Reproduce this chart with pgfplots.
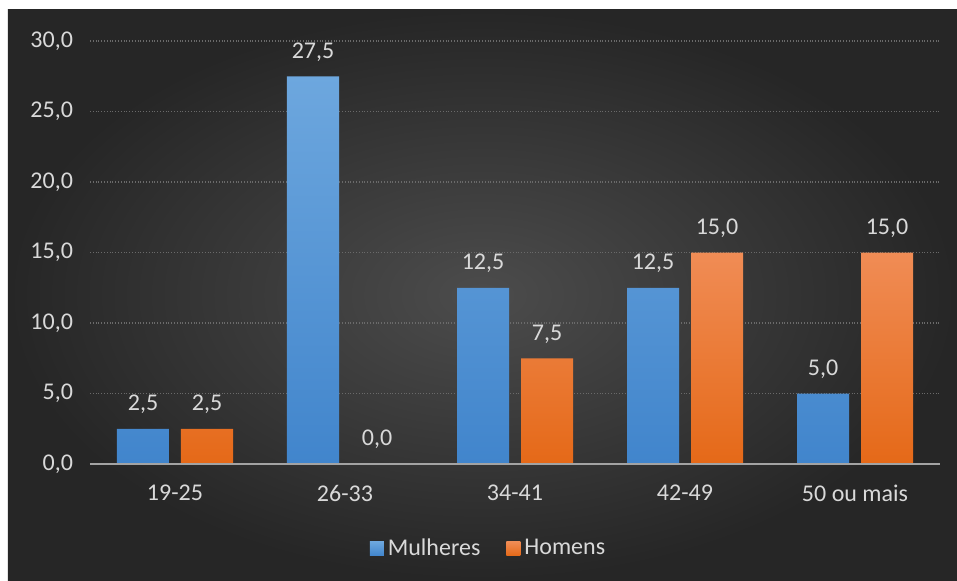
\documentclass[border=0pt]{standalone}
\usepackage{pgfplots}
\pgfplotsset{compat=1.18}
\usepackage{fontspec}
\setmainfont{Carlito}
\definecolor{bgin}{HTML}{4C4C4C}
\definecolor{bgout}{HTML}{262626}
\definecolor{lbl}{HTML}{D9D9D9}
\definecolor{gridc}{HTML}{6A6A6A}
\definecolor{btop}{HTML}{6DA7DE}
\definecolor{bbot}{HTML}{4185CC}
\definecolor{otop}{HTML}{F08C55}
\definecolor{obot}{HTML}{E56918}
\begin{document}
\begin{tikzpicture}[x=1pt,y=1pt]
\fill[white] (-45,-58) rectangle (433.5,232);
\shade[inner color=bgin, outer color=bgout] (-41,-58) rectangle (433.5,227);
\begin{axis}[
  at={(0,0)}, anchor=south west, scale only axis,
  width=425pt, height=211.5pt,
  xmin=-0.5, xmax=4.5, ymin=0, ymax=30,
  ybar=6pt, bar width=26pt,
  axis line style={draw=none},
  major tick length=0pt,
  xtick={0,1,2,3,4},
  xticklabels={19-25,26-33,34-41,42-49,50 ou mais},
  ytick={0,5,10,15,20,25,30},
  ymajorgrids,
  grid style={color=gridc, densely dotted, line width=0.6pt},
  /pgf/number format/assume math mode=true,
  yticklabel={\pgfmathprintnumber[fixed,fixed zerofill,precision=1,use comma]{\tick}},
  ticklabel style={font=\fontsize{12}{14}\selectfont, text=lbl},
  yticklabel style={xshift=-5pt},
  xticklabel style={yshift=-7pt},
  nodes near coords={\pgfmathprintnumber[fixed,fixed zerofill,precision=1,use comma,assume math mode=true]{\pgfplotspointmeta}},
  every node near coord/.append style={font=\fontsize{12}{14}\selectfont, text=lbl, yshift=4pt},
  legend style={at={(0.47,-0.2)}, anchor=center, legend columns=2, draw=none, fill=none,
    text=lbl, font=\fontsize{12}{14}\selectfont,
    /tikz/every even column/.append style={column sep=11pt}},
  legend image code/.code={\path[#1] (0pt,-3.5pt) rectangle (7pt,3.5pt);},
]
\addplot[draw=none, top color=btop, bottom color=bbot]
  coordinates {(0,2.5) (1,27.5) (2,12.5) (3,12.5) (4,5.0)};
\addlegendentry{Mulheres}
\addplot[draw=none, top color=otop, bottom color=obot]
  coordinates {(0,2.5) (1,0) (2,7.5) (3,15) (4,15)};
\addlegendentry{Homens}
\draw[color=lbl!75!black, line width=1.5pt] (rel axis cs:0,0) -- (rel axis cs:1,0);
\end{axis}
\end{tikzpicture}
\end{document}
